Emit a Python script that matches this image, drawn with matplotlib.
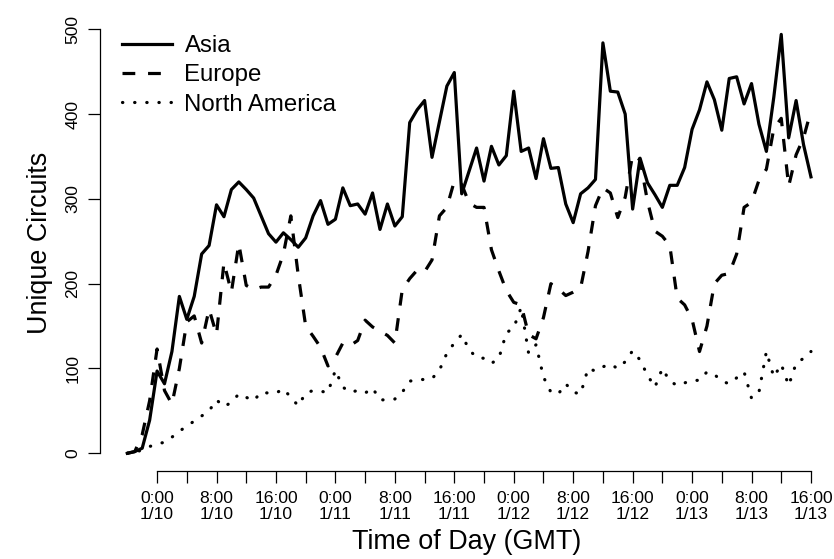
import numpy as np
import matplotlib
matplotlib.use("Agg")
import matplotlib.pyplot as plt

# hourly samples, hours relative to 0:00 on 1/10 (GMT)
hours = np.arange(-4, 89)

asia = [0, 2, 6, 39, 97, 82, 120, 185, 158, 185,
        235, 245, 293, 279, 311, 320, 311, 301, 280, 259,
        249, 260, 252, 243, 254, 280, 298, 270, 276, 313,
        292, 294, 282, 307, 264, 294, 268, 279, 390, 405,
        416, 349, 391, 433, 449, 306, 333, 360, 321, 362,
        340, 351, 427, 356, 360, 324, 371, 336, 337, 294,
        272, 306, 313, 323, 484, 427, 426, 400, 288, 348,
        319, 305, 290, 316, 316, 337, 382, 405, 438, 417,
        381, 442, 444, 412, 436, 388, 356, 420, 494, 372,
        416, 364, 326]

europe = [0, 2, 22, 62, 123, 74, 58, 100, 155, 162,
          130, 170, 140, 225, 190, 247, 198, 193, 196, 196,
          210, 235, 280, 210, 150, 138, 125, 103, 113, 130,
          127, 133, 157, 149, 144, 139, 130, 193, 206, 216,
          214, 228, 280, 290, 321, 317, 295, 290, 290, 240,
          215, 192, 178, 175, 140, 135, 160, 200, 194, 186,
          190, 195, 238, 292, 313, 307, 278, 302, 352, 346,
          297, 262, 256, 245, 183, 175, 158, 120, 150, 200,
          210, 212, 235, 290, 296, 322, 335, 383, 395, 315,
          352, 372, 404]

north_america = [0, 1, 4, 8, 11, 13, 19, 26, 32, 38,
                 44, 50, 63, 55, 60, 70, 66, 62, 72, 71,
                 71, 76, 66, 56, 71, 74, 73, 72, 98, 78,
                 72, 74, 71, 77, 63, 63, 64, 72, 85, 87,
                 87, 88, 98, 118, 130, 140, 122, 113, 112, 106,
                 112, 142, 148, 172, 118, 128, 90, 72, 70, 82,
                 72, 70, 100, 97, 102, 105, 100, 108, 121, 110,
                 92, 78, 100, 85, 80, 83, 86, 86, 96, 93,
                 85, 82, 89, 96, 65, 72, 120, 90, 105, 80,
                 106, 112, 120]

tick_hours = list(range(0, 89, 4))
label_hours = list(range(0, 89, 8))
tick_labels = ["0:00\n1/10", "8:00\n1/10", "16:00\n1/10",
               "0:00\n1/11", "8:00\n1/11", "16:00\n1/11",
               "0:00\n1/12", "8:00\n1/12", "16:00\n1/12",
               "0:00\n1/13", "8:00\n1/13", "16:00\n1/13"]

plt.rcParams["font.family"] = ["Liberation Sans", "DejaVu Sans"]

fig = plt.figure(figsize=(8.34, 5.59), dpi=100)
ax = fig.add_axes([100 / 834, (559 - 470.5) / 559, 734 / 834, (470.5 - 17.6) / 559])

lw = 2.3
ax.plot(hours, asia, color="black", lw=lw, solid_joinstyle="round", label="Asia")
ax.plot(hours, europe, color="black", lw=lw, dashes=(4, 4), dash_capstyle="butt", label="Europe")
ax.plot(hours, north_america, color="black", lw=lw, dashes=(0.1, 3.7),
        dash_capstyle="round", label="North America")

ax.set_xlim(-7.68, 91.1)
ax.set_ylim(-20.3, 513.8)

# R-style axes: no box, axis lines only across the tick range
for side in ("top", "right"):
    ax.spines[side].set_visible(False)
ax.spines["left"].set_bounds(0, 500)
ax.spines["bottom"].set_bounds(0, 88)
for side in ("left", "bottom"):
    ax.spines[side].set_linewidth(0.9)

ax.set_yticks([0, 100, 200, 300, 400, 500])
ax.set_xticks(tick_hours)
ax.set_xticklabels([tick_labels[label_hours.index(h)] if h in label_hours else "" for h in tick_hours],
                   linespacing=1.1)
ax.tick_params(axis="both", direction="out", length=8.3, width=0.9, labelsize=12.6)
ax.tick_params(axis="x", pad=6.5)
ax.tick_params(axis="y", pad=6.0)
for lab in ax.get_yticklabels():
    lab.set_rotation(90)
    lab.set_va("center")

ax.set_xlabel("Time of Day (GMT)", fontsize=19.4)
ax.set_ylabel("Unique Circuits", fontsize=19.4)
ax.xaxis.set_label_coords(0.5, (470.5 - 542) / 452.9)
ax.xaxis.label.set_va("center")
ax.yaxis.set_label_coords((40 - 100) / 734, 0.502)
ax.yaxis.label.set_va("center")

ax.legend(loc="upper left", frameon=False, fontsize=17.3, handlelength=2.1,
          handletextpad=0.5, labelspacing=0.31, borderpad=0, borderaxespad=0,
          bbox_to_anchor=(22 / 734, 1 - (35 - 17.6) / 452.9))

fig.savefig("out.png", dpi=100)
